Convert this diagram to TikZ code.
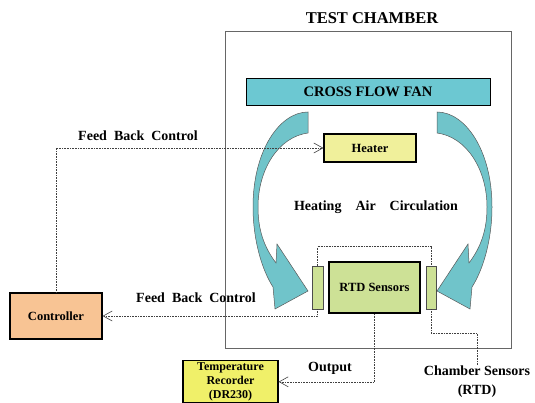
\documentclass[tikz,border=0pt]{standalone}
\usepackage{fontspec}
\setmainfont{Liberation Serif}
\usetikzlibrary{arrows.meta, positioning}
\definecolor{fancol}{RGB}{108,200,210}
\definecolor{swirlcol}{RGB}{112,196,202}
\definecolor{heatcol}{RGB}{240,240,155}
\definecolor{rtdcol}{RGB}{205,225,150}
\definecolor{ctrlcol}{RGB}{248,196,148}
\definecolor{reccol}{RGB}{240,240,105}
\begin{document}
\begin{tikzpicture}[x=1pt, y=-1pt, >={Straight Barb[length=9pt,width=10pt]},
  box/.style={draw, line width=1.2pt, inner sep=0pt, align=center, font=\bfseries\fontsize{12.5}{16}\selectfont},
  bar/.style={draw=black!70, fill=rtdcol, minimum width=11pt, minimum height=43pt, inner sep=0pt},
  fb/.style={densely dotted, line width=0.6pt, black!75},
  lbl/.style={align=center, font=\bfseries\fontsize{14}{19}\selectfont},
  swirl/.style={fill=swirlcol, draw=black!65, line width=0.5pt}]

\clip (0,0) rectangle (535,403);
\fill[white] (0,0) rectangle (535,403);

% chamber and fan
\node[draw=black!60, line width=1pt, minimum width=286pt, minimum height=316pt] (chamber) at (368,190) {};
\node[font=\bfseries\fontsize{16.5}{18}\selectfont] (title) at (372,18) {TEST CHAMBER};
\node[box, line width=0.8pt, fill=fancol, minimum width=244pt, minimum height=27pt, font=\bfseries\fontsize{14.5}{16}\selectfont] (fan) at (368,91.5) {CROSS FLOW FAN};

% air circulation
\draw[swirl] (308,112) .. controls (280,112) and (253,150) .. (253,207)
  .. controls (253,240) and (262,270) .. (273,287)
  -- (275,309) -- (308,291) -- (277,244) -- (276,263)
  .. controls (264,247) and (258,230) .. (258,207)
  .. controls (258,170) and (278,137) .. (308,133) -- cycle;
\draw[swirl] (437,112) .. controls (465,112) and (492,150) .. (492,207)
  .. controls (492,240) and (483,270) .. (472,287)
  -- (470,309) -- (437,291) -- (468,244) -- (469,263)
  .. controls (481,247) and (487,230) .. (487,207)
  .. controls (487,170) and (467,137) .. (437,133) -- cycle;
\node[lbl] (air) at (376,207) {Heating\quad Air\quad Circulation};

% boxes
\node[box, fill=heatcol, minimum width=92pt, minimum height=28pt] (heater) at (370,148) {Heater};
\node[box, fill=rtdcol, line width=2pt, minimum width=91pt, minimum height=51pt] (rtd) at (374.5,287.5) {RTD Sensors};
\node[bar, left=5pt of rtd] (lbar) {};
\node[bar, right=5pt of rtd, minimum width=10pt] (rbar) {};
\node[box, fill=ctrlcol, minimum width=92pt, minimum height=46pt] (controller) at (56,316) {Controller};
\node[box, fill=reccol, anchor=north, inner ysep=2pt, minimum width=95pt, font=\bfseries\fontsize{12}{14}\selectfont] (recorder) at (230.5,360) {Temperature\\Recorder\\(DR230)};

% labels
\node[lbl] (fbtop) at (138,136) {Feed\enspace Back\enspace Control};
\node[lbl] (fbbot) at (196,298) {Feed\enspace Back\enspace Control};
\node[lbl] (output) at (330,368) {Output};
\node[lbl, inner sep=1pt] (sensors) at (477,382) {Chamber Sensors\\(RTD)};

% signal lines
\draw[fb, ->] (controller.north) |- (heater.west);
\draw[fb, ->] (lbar.south) |- (controller.east);
\draw[fb] (lbar.north) -- ++(0,-19) -| (rbar.north);
\draw[fb, ->] (rtd.south) |- (recorder.east);
\draw[fb] (rbar.south) -- ++(0,24) -| (sensors.north);

\end{tikzpicture}
\end{document}
